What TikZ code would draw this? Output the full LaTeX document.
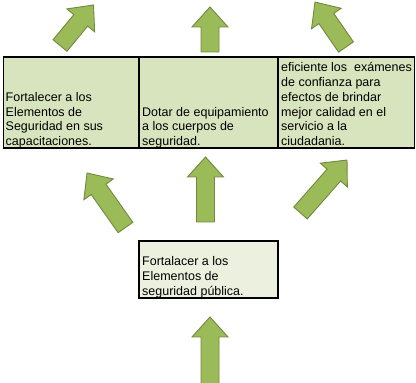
\documentclass[tikz,border=0pt]{standalone}
\usepackage{fontspec}
\setmainfont{Liberation Sans}
\definecolor{arrowgreen}{HTML}{9BBB59}
\definecolor{arrowedge}{HTML}{71893F}
\definecolor{cellgreen}{HTML}{D7E4BD}
\definecolor{boxgreen}{HTML}{EBF1DE}

\begin{document}
\begin{tikzpicture}[x=1pt, y=1pt,
        celltext/.style={anchor=base west, inner sep=0pt, align=left, font=\fontsize{12.5}{14.7}\selectfont},
        blockarrow/.pic={\draw[fill=arrowgreen, draw=arrowedge, line width=0.9pt, line join=miter]
            (0,-9) -- (#1-20,-9) -- (#1-20,-18) -- (#1,0) -- (#1-20,18) -- (#1-20,9) -- (0,9) -- cycle;}]
            %\draw[lightgray] (0, 0) grid[step=20] (416, 383);
            \useasboundingbox (0, 0) rectangle (416, 383);
            \draw[fill=cellgreen, line width=1.2pt] (3.5, 235) rectangle (414.5, 326);
            \draw[line width=1.2pt] (139, 235) -- (139, 326) (278, 235) -- (278, 326);
            \draw[fill=boxgreen, line width=1.2pt] (139, 85) rectangle (278, 142);
            % anchor sits on the last line
            \node[celltext] (capacitar) at (5.5, 237.5) {Fortalecer a los\\Elementos de\\Seguridad en sus\\capacitaciones.};
            \node[celltext] (equipar) at (142, 237.5) {Dotar de equipamiento\\a los cuerpos de\\seguridad.};
            \node[celltext] (examenes) at (281, 237.5) {eficiente los\ \ exámenes\\de confianza para\\efectos de brindar\\mejor calidad en el\\servicio a la\\ciudadania.};
            \node[celltext] (fortalecer) at (142, 87.6) {Fortalacer a los\\Elementos de\\seguridad pública.};
            % arrows above the table
            \pic (arrowA) [rotate=50.4] at (60, 337.5) {blockarrow=52.6};
            \pic (arrowB) [rotate=90] at (210, 331) {blockarrow=45};
            \pic (arrowC) [rotate=124.6] at (346, 336) {blockarrow=54.6};
            % arrows between table and box
            \pic (arrowD) [rotate=125.2] at (125.5, 155.5) {blockarrow=66.7};
            \pic (arrowE) [rotate=90] at (205.5, 161) {blockarrow=65};
            \pic (arrowF) [rotate=48.7] at (300.5, 170) {blockarrow=70.5};
            \pic (arrowG) [rotate=90] at (210, -5) {blockarrow=71};
        \end{tikzpicture}
\end{document}
